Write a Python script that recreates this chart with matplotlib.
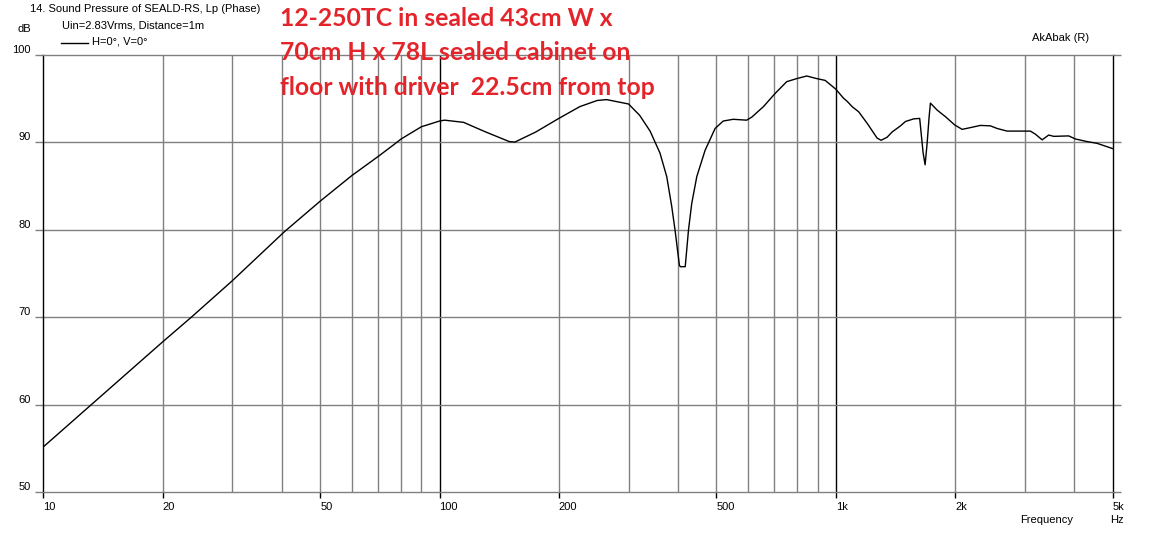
import matplotlib.pyplot as plt
from matplotlib.ticker import FixedLocator, NullFormatter

# frequency response
freq = [10, 20, 23.6, 30, 40.6, 50, 60, 70, 76.4, 80, 90, 100, 103, 115, 130,
        150, 155, 175, 200, 226, 250, 264, 300, 320, 340, 360, 374.5, 385.5,
        393, 403, 405, 417, 425, 433, 446, 468, 496, 520, 551, 596, 614, 657,
        703, 752, 797, 845, 896, 940, 970, 1000, 1047, 1069, 1100, 1143, 1200,
        1272, 1302, 1348, 1388, 1457, 1500, 1574, 1629, 1643, 1662, 1681, 1701,
        1721, 1734, 1803, 1892, 1997, 2085, 2188, 2318, 2457, 2555, 2708, 3100,
        3191, 3319, 3449, 3550, 3874, 4027, 4311, 4569, 5000]
spl = [55.2, 67.2, 70.0, 74.2, 79.8, 83.3, 86.2, 88.4, 89.7, 90.4, 91.8, 92.45,
       92.55, 92.3, 91.25, 90.1, 90.05, 91.2, 92.75, 94.1, 94.8, 94.9, 94.4,
       93.1, 91.3, 88.8, 86.1, 82.7, 80.0, 76.0, 75.8, 75.8, 80.0, 83.0, 86.1,
       89.1, 91.6, 92.45, 92.65, 92.55, 92.9, 94.1, 95.6, 96.95, 97.3, 97.6,
       97.3, 97.1, 96.6, 96.1, 95.05, 94.7, 94.1, 93.5, 92.2, 90.5, 90.25, 90.6,
       91.2, 91.9, 92.4, 92.7, 92.75, 91.05, 88.8, 87.45, 89.9, 92.95, 94.5,
       93.7, 92.95, 92.0, 91.5, 91.7, 91.95, 91.9, 91.6, 91.3, 91.3, 90.95,
       90.3, 90.85, 90.7, 90.75, 90.4, 90.1, 89.9, 89.3]

xticks = [10, 20, 50, 100, 200, 500, 1000, 2000, 5000]
xlabels = ['10', '20', '50', '100', '200', '500', '1k', '2k', '5k']
grid_x = [20, 30, 40, 50, 60, 70, 80, 90, 200, 300, 400, 500, 600, 700, 800,
          900, 2000, 3000, 4000]
decades = [100, 1000]
yticks = [50, 60, 70, 80, 90, 100]

note = ['12-250TC in sealed 43cm W x',
        '70cm H x 78L sealed cabinet on',
        'floor with driver  22.5cm from top']

plt.rcParams['font.family'] = ['Liberation Sans', 'DejaVu Sans']
gray = '#808080'
small = 8

fig = plt.figure(figsize=(11.53, 5.34), dpi=100)
ax = fig.add_axes([0.0376, 0.078, 0.965 - 0.0376, 0.897 - 0.078])
ax.set_xscale('log')
ax.set_xlim(10, 5000)
ax.set_ylim(50, 100)

for f in grid_x:
    ax.axvline(f, color=gray, lw=1, zorder=1)
for f in decades:
    ax.axvline(f, color='black', lw=1, zorder=1)
for v in yticks[1:-1]:
    ax.axhline(v, color=gray, lw=1, zorder=1)

ax.plot(freq, spl, color='black', lw=1, zorder=3)

ax.spines['left'].set_color('black')
ax.spines['right'].set_color('black')
ax.spines['top'].set_color(gray)
ax.spines['bottom'].set_color(gray)
for s in ax.spines.values():
    s.set_linewidth(1)

ax.xaxis.set_major_locator(FixedLocator(xticks))
ax.xaxis.set_minor_locator(FixedLocator([]))
ax.xaxis.set_minor_formatter(NullFormatter())
ax.set_xticklabels(xlabels)
ax.set_yticks(yticks)
ax.tick_params(axis='x', length=4, width=1, color='black', labelsize=small, pad=3)
ax.tick_params(axis='y', length=6, width=1, color=gray, labelsize=small, pad=3,
               right=True)
for lab in ax.get_xticklabels():
    lab.set_horizontalalignment('left')
for lab in ax.get_yticklabels():
    lab.set_verticalalignment('bottom')

# header texts
fig.text(30 / 1153, 1 - 9 / 534, '14. Sound Pressure of SEALD-RS, Lp (Phase)',
         fontsize=small, va='center')
fig.text(62 / 1153, 1 - 26 / 534, 'Uin=2.83Vrms, Distance=1m', fontsize=small,
         va='center')
fig.add_artist(plt.Line2D([61 / 1153, 88 / 1153], [1 - 43 / 534, 1 - 43 / 534],
                          color='black', lw=1))
fig.text(92 / 1153, 1 - 42 / 534, 'H=0°, V=0°', fontsize=small, va='center')
fig.text(17 / 1153, 1 - 29 / 534, 'dB', fontsize=small, va='center')
fig.text(1032 / 1153, 1 - 38 / 534, 'AkAbak (R)', fontsize=small, va='center')
fig.text(1020 / 1153, 1 - 520 / 534, 'Frequency', fontsize=small, va='center')
fig.text(1110 / 1153, 1 - 520 / 534, 'Hz', fontsize=small, va='center')

for i, line in enumerate(note):
    fig.text(280 / 1153, 1 - (19 + 34 * i) / 534, line, fontsize=17.8,
             fontweight='bold', color='#e3242b', va='center', family='Lato')

fig.savefig('out.png', dpi=100)
